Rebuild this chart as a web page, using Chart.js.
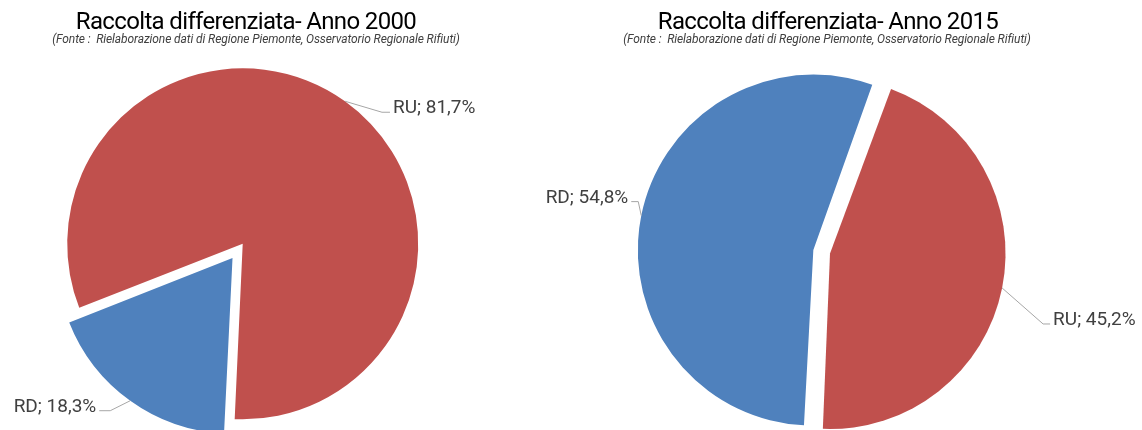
<!DOCTYPE html>
<html>
<head>
<meta charset="utf-8">
<script src="https://cdn.jsdelivr.net/npm/chart.js@4.4.0/dist/chart.umd.min.js"></script>
<style>
  html, body { margin: 0; padding: 0; background: #fff; overflow: hidden; }
  #wrap { position: relative; width: 1142px; height: 430px; overflow: hidden; }
  canvas { position: absolute; top: 0; }
  .title { position: absolute; white-space: pre; transform: translateX(-50%);
           font-family: Roboto, sans-serif; color: #000; font-size: 24px; line-height: 24px;
           letter-spacing: -0.65px; }
  .sub { position: absolute; white-space: pre; transform: translateX(-50%);
         font-family: Roboto, sans-serif; font-style: italic; color: #404040; font-size: 12px; line-height: 12px;
         letter-spacing: -0.1px; }
</style>
</head>
<body>
<div id="wrap">
  <canvas id="pie2000" width="571" height="490" style="left:0"></canvas>
  <canvas id="pie2015" width="612" height="503" style="left:530px"></canvas>
  <div class="title" id="t2000" style="left:246px; top:9px"></div>
  <div class="sub" id="s2000" style="left:256px; top:33px"></div>
  <div class="title" id="t2015" style="left:828px; top:9px"></div>
  <div class="sub" id="s2015" style="left:827px; top:33px"></div>
</div>
<script>
//==================== data ====================
var categories = ['RD', 'RU'];
var values2000 = [18.3, 81.7];
var values2015 = [54.8, 45.2];
var years = ['2000', '2015'];
var titleText = 'Raccolta differenziata- Anno ';
var sourceText = '(Fonte :  Rielaborazione dati di Regione Piemonte, Osservatorio Regionale Rifiuti)';
var sliceColors = ['#4F81BD', '#C0504D'];

//==================== titles ====================
document.getElementById('t2000').textContent = titleText + years[0];
document.getElementById('t2015').textContent = titleText + years[1];
document.getElementById('s2000').textContent = sourceText;
document.getElementById('s2015').textContent = sourceText;

//==================== data labels with leader lines ====================
var pieLabels = {
    id: 'pieLabels',
    afterDatasetsDraw: function(chart, args, opts) {
        var ctx = chart.ctx;
        var meta = chart.getDatasetMeta(0);
        var data = chart.data.datasets[0].data;
        ctx.save();
        ctx.font = opts.font;
        meta.data.forEach(function(arc, i) {
            var p = arc.getProps(['x', 'y', 'startAngle', 'endAngle', 'outerRadius', 'circumference']);
            var mid = (p.startAngle + p.endAngle) / 2;
            // same offset handling as the arc element uses when drawing
            var off = (arc.options.offset || 0) / 4;
            var fix = 1 - Math.sin(Math.min(Math.PI, p.circumference));
            var r = p.outerRadius + off * fix;
            var ax = p.x + Math.cos(mid) * (off + r);
            var ay = p.y + Math.sin(mid) * (off + r);
            var lp = opts.leaders[i];
            var left = Math.cos(mid) < 0;
            var ex = ax + lp[0], ey = ay + lp[1];
            var hx = ex + (left ? -lp[2] : lp[2]);

            ctx.strokeStyle = '#a6a6a6';
            ctx.lineWidth = 1;
            ctx.beginPath();
            ctx.moveTo(ax, ay);
            ctx.lineTo(ex, ey);
            ctx.lineTo(hx, ey);
            ctx.stroke();

            var label = categories[i] + '; ' + data[i].toFixed(1).replace('.', ',') + '%';
            ctx.fillStyle = '#404040';
            ctx.textAlign = left ? 'right' : 'left';
            ctx.textBaseline = 'alphabetic';
            ctx.fillText(label, hx + (left ? -3 : 3), ey + 1);
        });
        ctx.restore();
    }
};

function makePie(id, values, offsets, radius, padRight, leaders) {
    return new Chart(document.getElementById(id).getContext('2d'), {
        type: 'pie',
        data: {
            labels: categories,
            datasets: [{
                data: values,
                backgroundColor: sliceColors,
                borderWidth: 0,
                offset: offsets
            }]
        },
        options: {
            responsive: false,
            animation: false,
            events: [],
            rotation: 182.7,
            radius: radius,
            layout: { padding: { right: padRight } },
            plugins: {
                legend: { display: false },
                tooltip: { enabled: false },
                pieLabels: { font: '19px Roboto', leaders: leaders }
            }
        },
        plugins: [pieLabels]
    });
}

//==================== charts ====================
var pie2000 = makePie('pie2000', values2000, [64.4, 5.6], 174.1, 87.2, [[-20, 10, 11], [37, 11, 8]]);
var pie2015 = makePie('pie2015', values2015, [28, 40], 168.5, 31.6, [[-3, -14, 7], [41, 36, 7]]);
</script>
</body>
</html>
